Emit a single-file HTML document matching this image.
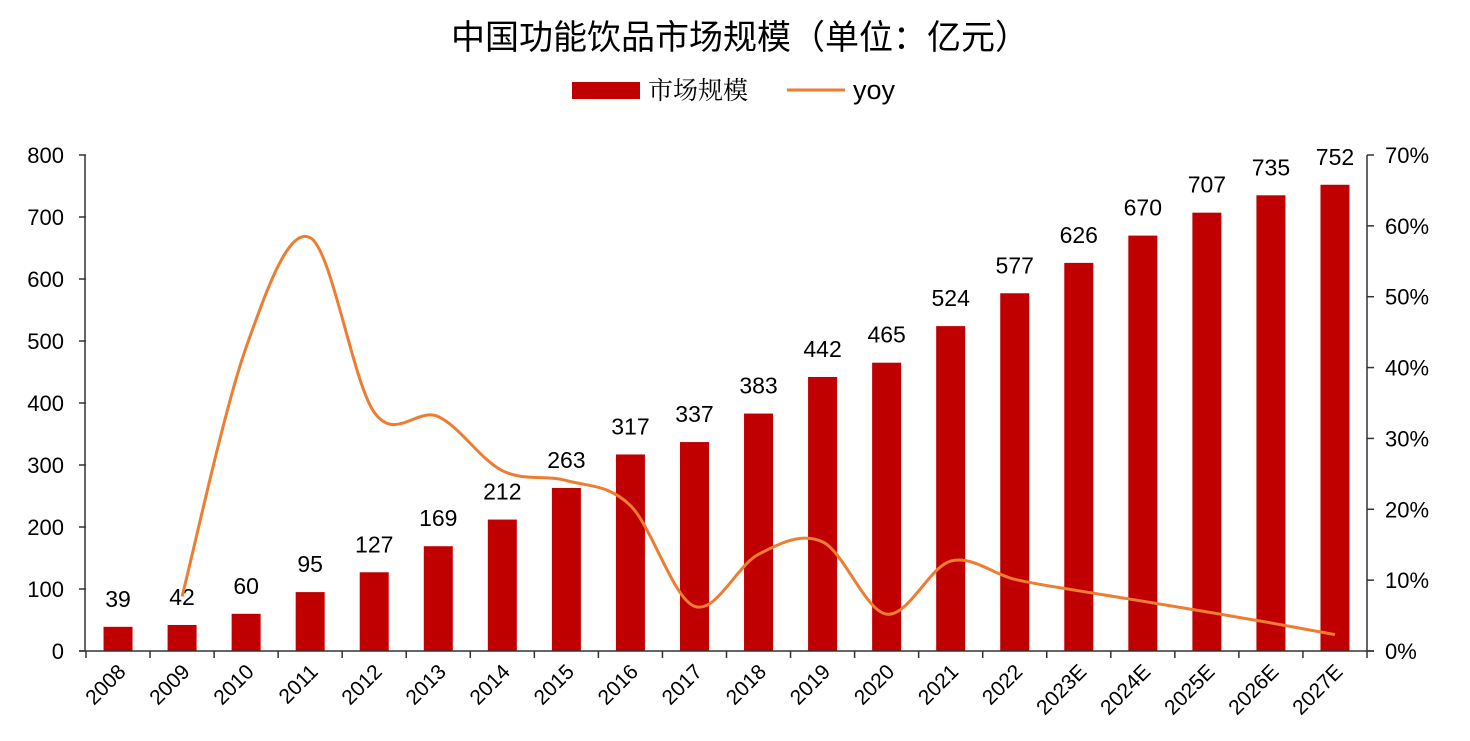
<!DOCTYPE html>
<html><head><meta charset="utf-8"><style>
body{margin:0;background:#fff;width:1470px;height:736px;overflow:hidden}
svg text{font-family:"Liberation Sans","Noto Sans CJK SC",sans-serif;fill:#000}
</style></head><body>
<svg id="s" width="1470" height="736" xmlns="http://www.w3.org/2000/svg">
<text x="740" y="49" font-size="34" text-anchor="middle">中国功能饮品市场规模（单位：亿元）</text>
<rect x="572" y="82" width="68" height="17" fill="#c00000"/>
<text x="648" y="99" font-size="25" style="font-family:'Noto Serif CJK SC',serif">市场规模</text>
<line x1="787" y1="90" x2="845" y2="90" stroke="#ed7d31" stroke-width="3"/>
<text x="853" y="99" font-size="27">yoy</text>
</svg>
<script>
var s=document.getElementById('s'),ns='http://www.w3.org/2000/svg';
function el(t,a,txt){var e=document.createElementNS(ns,t);for(var k in a)e.setAttribute(k,a[k]);if(txt!=null)e.textContent=txt;s.appendChild(e);return e;}
var v=[39,42,60,95,127,169,212,263,317,337,383,442,465,524,577,626,670,707,735,752];
var lab=['2008','2009','2010','2011','2012','2013','2014','2015','2016','2017','2018','2019','2020','2021','2022','2023E','2024E','2025E','2026E','2027E'];
var y0=651,L=86,R=1367,w=(R-L)/20,sc=496/800;
for(var i=0;i<20;i++){var cx=L+w*(i+0.5),h=v[i]*sc;
el('rect',{x:cx-14.5,y:y0-h,width:29,height:h,fill:'#c00000'});
el('text',{x:cx,y:y0-h-20,'font-size':23,'text-anchor':'middle'},v[i]);
var tx=cx+9,ty=673;
el('text',{x:tx,y:ty,'font-size':21,'text-anchor':'end',transform:'rotate(-45 '+tx+' '+ty+')'},lab[i]);}
el('line',{x1:L-1,y1:155,x2:L-1,y2:y0,stroke:'#333','stroke-width':1.5});
el('line',{x1:R,y1:155,x2:R,y2:y0,stroke:'#333','stroke-width':1.5});
el('line',{x1:L-7,y1:y0,x2:R+7,y2:y0,stroke:'#333','stroke-width':1.5});
for(var i=0;i<=20;i++){var x=L+w*i;el('line',{x1:x,y1:y0,x2:x,y2:y0+7,stroke:'#333','stroke-width':1.5});}
for(var k=0;k<=8;k++){var y=y0-k*100*sc;el('line',{x1:L-7,y1:y,x2:L,y2:y,stroke:'#333','stroke-width':1.5});
el('text',{x:64,y:y+8,'font-size':22,'text-anchor':'end'},k*100);}
for(var k=0;k<=7;k++){var y=y0-k*496/7;el('line',{x1:R,y1:y,x2:R+7,y2:y,stroke:'#333','stroke-width':1.5});
el('text',{x:1385,y:y+8,'font-size':22},k*10+'%');}
var p=[];for(var i=1;i<20;i++){var pc=(v[i]/v[i-1]-1)*100;p.push([L+w*(i+0.5),y0-pc*496/70]);}
var d='M'+p[0][0]+' '+p[0][1];
for(var i=0;i<p.length-1;i++){var a=p[i-1]||p[i],b=p[i],c=p[i+1],e=p[i+2]||c;
d+=' C'+(b[0]+(c[0]-a[0])/6)+' '+(b[1]+(c[1]-a[1])/6)+' '+(c[0]-(e[0]-b[0])/6)+' '+(c[1]-(e[1]-b[1])/6)+' '+c[0]+' '+c[1];}
el('path',{d:d,fill:'none',stroke:'#ed7d31','stroke-width':3});
</script>
</body></html>
